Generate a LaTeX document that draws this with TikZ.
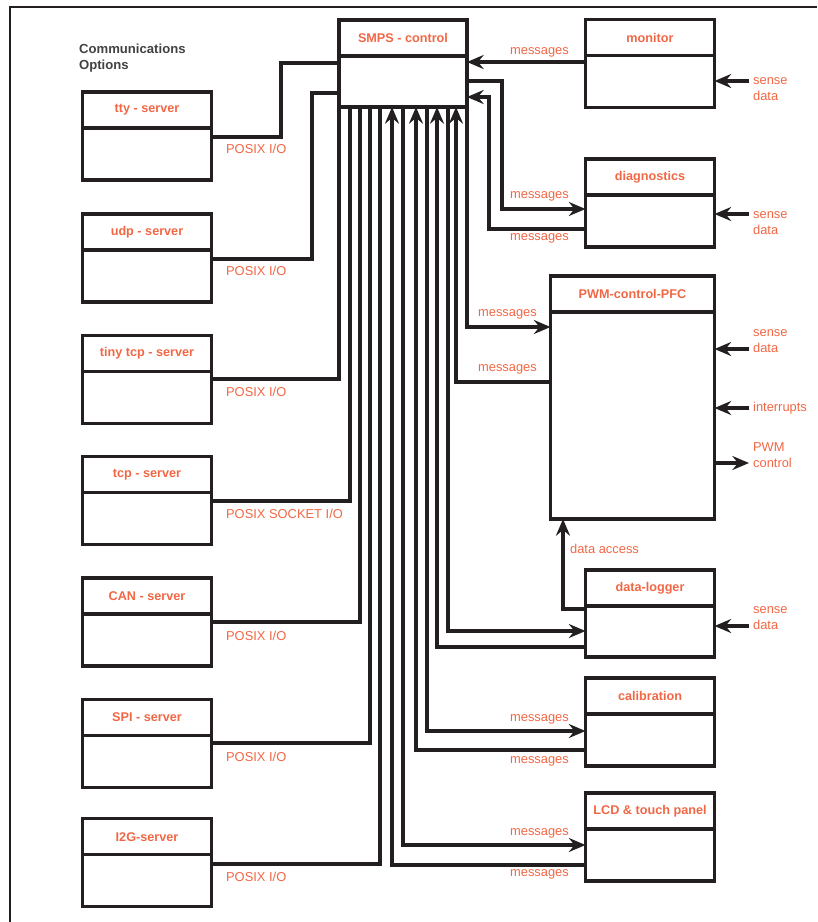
\documentclass[tikz,border=0pt]{standalone}
\usepackage{fontspec}
\setmainfont{Liberation Sans}
\usetikzlibrary{positioning, arrows.meta}
\definecolor{accent}{RGB}{241,103,69}
\definecolor{ink}{RGB}{35,31,32}

\begin{document}
\begin{tikzpicture}[
  x=0.3mm, y=-0.3mm,
  node distance=10mm,
  head/.style={draw=ink, line width=2.6pt, outer sep=0pt, inner xsep=1pt, minimum width=38.7mm, minimum height=10.8mm, font=\fontsize{10.8}{13}\selectfont\bfseries, text=accent},
  body/.style={draw=ink, line width=2.6pt, outer sep=0pt, minimum width=38.7mm, minimum height=15.6mm, below=0pt of #1},
  lbl/.style={font=\fontsize{11}{13.6}\selectfont, text=accent, align=left},
  conn/.style={draw=ink, line width=2.6pt},
  arr/.style={conn, -{Stealth[length=5mm, width=4.2mm, inset=1.7mm]}},
]

% Frame
\useasboundingbox (0,0) rectangle (817,922);
\draw[ink, line width=1.4pt] (817,7) -| (10,922);

% Central task
\node[head, minimum width=38.4mm] (smpsh) at (403,38) {SMPS - control};
\node[body=smpsh, minimum width=38.4mm, minimum height=15.3mm] (smpsb) {};

% Communications options
\node[font=\fontsize{11.2}{13.4}\selectfont\bfseries, text=ink!85, align=left, anchor=west] (commhdr) at (75,58) {Communications\\Options};

\node[head] (ttyh) at (147,110) {tty - server};
\node[body=ttyh] (ttyb) {};
\node[head, below=10.2mm of ttyb] (udph) {udp - server};
\node[body=udph] (udpb) {};
\node[head, below=of udpb] (tinyh) {tiny tcp - server};
\node[body=tinyh] (tinyb) {};
\node[head, below=of tinyb] (tcph) {tcp - server};
\node[body=tcph] (tcpb) {};
\node[head, below=of tcpb] (canh) {CAN - server};
\node[body=canh] (canb) {};
\node[head, below=of canb] (spih) {SPI - server};
\node[body=spih] (spib) {};
\node[head, below=9.4mm of spib] (i2gh) {I2G-server};
\node[body=i2gh] (i2gb) {};

% Right-hand tasks
\node[head] (monh) at (650,37.5) {monitor};
\node[body=monh] (monb) {};
\node[head] (diagh) at (650,177) {diagnostics};
\node[body=diagh] (diagb) {};
\node[head, minimum width=49.2mm] (pwmh) at (632.5,294) {PWM-control-PFC};
\node[body=pwmh, minimum width=49.2mm, minimum height=62.1mm] (pwmb) {};
\node[head] (logh) at (650,588) {data-logger};
\node[body=logh, minimum height=15.3mm] (logb) {};
\node[head] (calh) at (650,696) {calibration};
\node[body=calh] (calb) {};
\node[head] (lcdh) at (650,811) {LCD \& touch panel};
\node[body=lcdh] (lcdb) {};

% Server links
\draw[conn] (ttyb.east |- 0,137) -| (281,63) -- (smpsb.west |- 0,63);
\draw[conn] (udpb.east |- 0,259) -| (312,93) -- (smpsb.west |- 0,93);
\draw[conn] (tinyb.east |- 0,379) -| (smpsb.south west);
\draw[conn] (tcpb.east |- 0,501) -| (smpsb.south -| 350,0);
\draw[conn] (canb.east |- 0,622) -| (smpsb.south -| 360,0);
\draw[conn] (spib.east |- 0,743) -| (smpsb.south -| 370,0);
\draw[conn] (i2gb.east |- 0,864) -| (smpsb.south -| 380,0);

\node[lbl, anchor=west] (ttyio) at (222,149) {POSIX I/O};
\node[lbl, anchor=west] (udpio) at (222,271) {POSIX I/O};
\node[lbl, anchor=west] (tinyio) at (222,392) {POSIX I/O};
\node[lbl, anchor=west] (tcpio) at (222,514) {POSIX SOCKET I/O};
\node[lbl, anchor=west] (canio) at (222,636) {POSIX I/O};
\node[lbl, anchor=west] (spiio) at (222,757) {POSIX I/O};
\node[lbl, anchor=west] (i2gio) at (222,877) {POSIX I/O};

% Message links
\draw[arr] (monb.west |- 0,62) -- (smpsb.east |- 0,62);
\draw[arr] (smpsb.east |- 0,81) -| (502,209) -- (diagb.west |- 0,209);
\draw[arr] (diagb.west |- 0,229) -| (489,97) -- (smpsb.east |- 0,97);
\draw[arr] (smpsb.south east) |- (pwmb.west |- 0,327);
\draw[arr] (pwmb.west |- 0,382) -| (smpsb.south -| 456,0);
\draw[arr] (smpsb.south -| 448,0) |- (logb.west |- 0,631);
\draw[arr] (logb.west |- 0,647) -| (smpsb.south -| 437,0);
\draw[arr] (smpsb.south -| 427,0) |- (calb.west |- 0,731);
\draw[arr] (calb.west |- 0,750) -| (smpsb.south -| 416,0);
\draw[arr] (smpsb.south -| 403,0) |- (lcdb.west |- 0,845);
\draw[arr] (lcdb.west |- 0,865) -| (smpsb.south -| 392,0);
\draw[arr] (logb.west |- 0,609) -| (pwmb.south -| 563,0);

\node[lbl, anchor=east] (monmsg) at (573,52) {messages};
\node[lbl, anchor=east] (diagmsga) at (573,196) {messages};
\node[lbl, anchor=east] (diagmsgb) at (573,238) {messages};
\node[lbl, anchor=east] (pwmmsga) at (541,314) {messages};
\node[lbl, anchor=east] (pwmmsgb) at (541,369) {messages};
\node[lbl, anchor=west] (logacc) at (566,549) {data access};
\node[lbl, anchor=east] (calmsga) at (573,719) {messages};
\node[lbl, anchor=east] (calmsgb) at (573,761) {messages};
\node[lbl, anchor=east] (lcdmsga) at (573,833) {messages};
\node[lbl, anchor=east] (lcdmsgb) at (573,874) {messages};

% Sensor inputs
\node[lbl, anchor=west] (monsense) at (749,89) {sense\\data};
\node[lbl, anchor=west] (diagsense) at (749,223) {sense\\data};
\node[lbl, anchor=west] (pwmsense) at (749,341.5) {sense\\data};
\node[lbl, anchor=west] (pwmirq) at (749,408) {interrupts};
\node[lbl, anchor=west] (pwmout) at (749,455) {PWM\\control};
\node[lbl, anchor=west] (logsense) at (749,618) {sense\\data};

\draw[arr] (monsense.west |- 0,81) -- (monb.east |- 0,81);
\draw[arr] (diagsense.west |- 0,214) -- (diagb.east |- 0,214);
\draw[arr] (pwmsense.west |- 0,349) -- (pwmb.east |- 0,349);
\draw[arr] (pwmirq.west) -- (pwmb.east |- pwmirq.west);
\draw[arr] (pwmb.east |- 0,463) -- (pwmout.west |- 0,463);
\draw[arr] (logsense.west |- 0,626) -- (logb.east |- 0,626);

\end{tikzpicture}
\end{document}
